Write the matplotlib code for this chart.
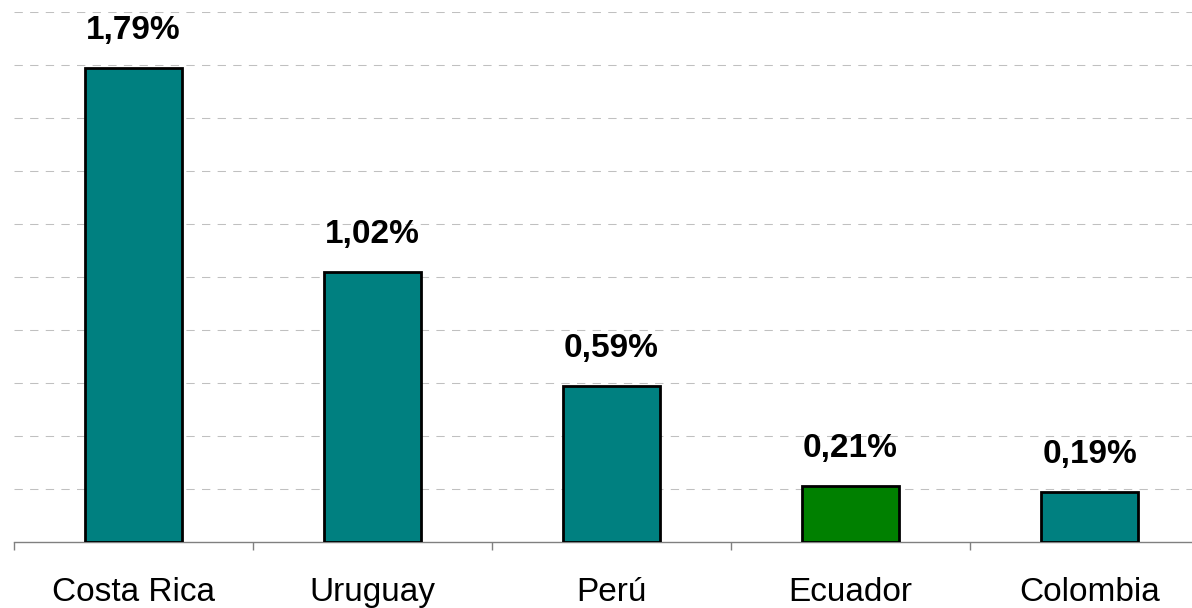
import matplotlib.pyplot as plt
import numpy as np

# chart values
countries = ["Costa Rica", "Uruguay", "Perú", "Ecuador", "Colombia"]
shares = [1.79, 1.02, 0.59, 0.21, 0.19]
bar_colors = ["#008080", "#008080", "#008080", "#008000", "#008080"]
value_labels = ["1,79%", "1,02%", "0,59%", "0,21%", "0,19%"]

plt.rcParams["font.family"] = ["Liberation Sans", "DejaVu Sans"]

fig = plt.figure(figsize=(11.92, 6.08), dpi=100)
# axes runs a bit past the right edge like in the original
ax = fig.add_axes([14 / 1192, 66 / 608, 1195 / 1192, 530 / 608])

x = np.arange(len(countries))
ax.bar(x, shares, width=0.41, color=bar_colors, edgecolor="black", linewidth=2, zorder=3)

for xi, v, lab in zip(x, shares, value_labels):
    ax.annotate(lab, (xi, v), xytext=(0, 27), textcoords="offset points",
                ha="center", va="center", fontsize=24, fontweight="bold")

ax.set_xlim(-0.5, len(countries) - 0.5)
ax.set_ylim(0, 2.0)

# dashed gridlines every 0.2
ax.set_yticks(np.arange(0.2, 2.01, 0.2))
ax.yaxis.grid(True, color="#c0c0c0", linestyle=(0, (8, 7)), linewidth=0.75, zorder=0)
ax.tick_params(axis="y", left=False, labelleft=False)

# category labels at centers, tick marks on boundaries
ax.set_xticks(x)
ax.set_xticklabels(countries, fontsize=24)
ax.tick_params(axis="x", which="major", length=0, pad=25)
ax.set_xticks(np.arange(-0.5, len(countries), 1.0), minor=True)
ax.tick_params(axis="x", which="minor", length=6, width=1, color="#808080", direction="out")

for side in ["top", "right", "left"]:
    ax.spines[side].set_visible(False)
ax.spines["bottom"].set_color("#808080")
ax.spines["bottom"].set_linewidth(1)

plt.savefig("out.png", dpi=100)
